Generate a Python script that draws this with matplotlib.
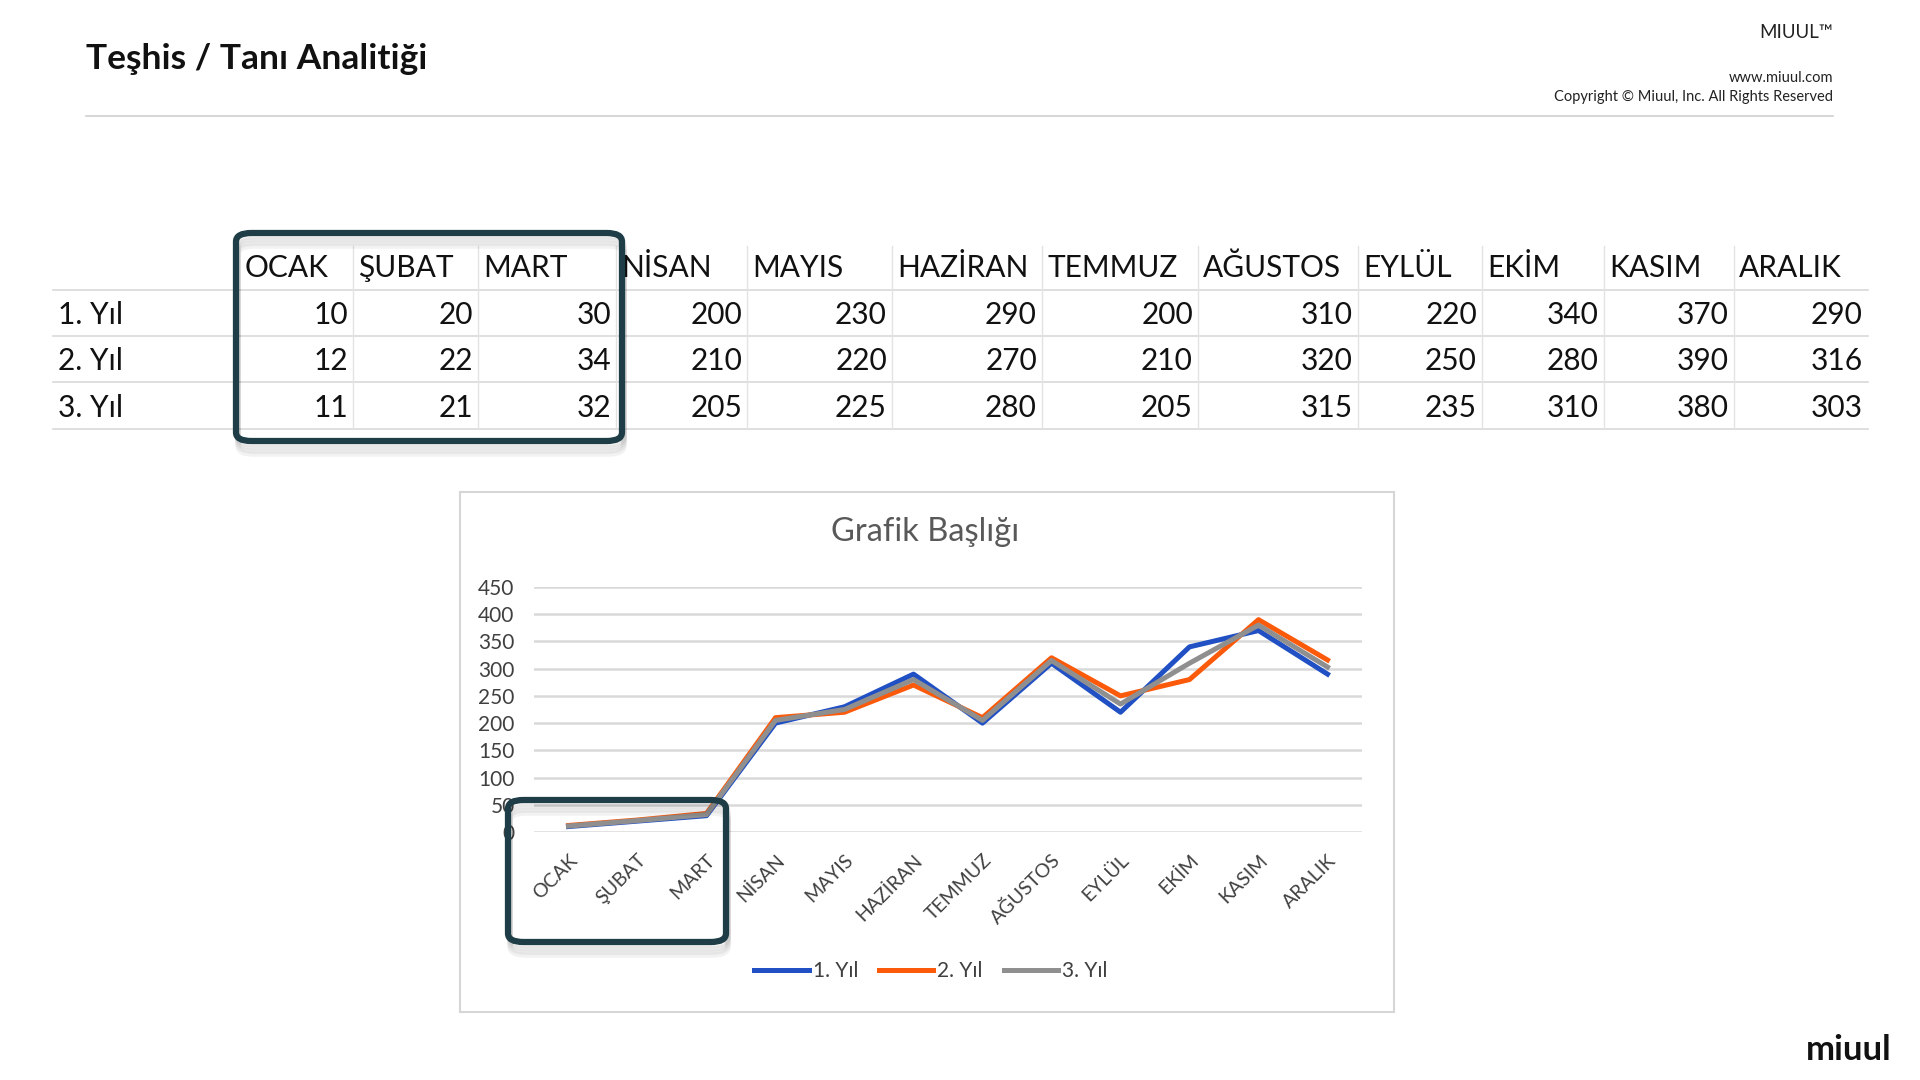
import matplotlib.pyplot as plt
from matplotlib.lines import Line2D
from matplotlib.patches import FancyBboxPatch, Rectangle

months = ["OCAK", "ŞUBAT", "MART", "NİSAN", "MAYIS", "HAZİRAN", "TEMMUZ",
          "AĞUSTOS", "EYLÜL", "EKİM", "KASIM", "ARALIK"]
series_names = ["1. Yıl", "2. Yıl", "3. Yıl"]
year1 = [10, 20, 30, 200, 230, 290, 200, 310, 220, 340, 370, 290]
year2 = [12, 22, 34, 210, 220, 270, 210, 320, 250, 280, 390, 316]
year3 = [11, 21, 32, 205, 225, 280, 205, 315, 235, 310, 380, 303]
y_ticks = [0, 50, 100, 150, 200, 250, 300, 350, 400, 450]

colors = ["#2050c4", "#fa5a0a", "#8f8f8f"]
dark = "#1e3d47"
W, H = 1920, 1080

fig = plt.figure(figsize=(19.2, 10.8), dpi=100)
fig.patch.set_facecolor("white")


def fx(x):
    return x / W


def fy(y):
    return 1 - y / H


def hline(x0, x1, y, color="#d9d9d9", lw=1.2):
    fig.add_artist(Line2D([fx(x0), fx(x1)], [fy(y), fy(y)], color=color, lw=lw))


def vline(x, y0, y1, color="#e3e3e3", lw=1.0):
    fig.add_artist(Line2D([fx(x), fx(x)], [fy(y0), fy(y1)], color=color, lw=lw))


def shadow_box(x0, y0, x1, y1):
    # soft shadow then the dark rounded frame
    for i in range(4):
        off = 4 + i * 3
        fig.add_artist(FancyBboxPatch((fx(x0 + 2), fy(y1 + off)), fx(x1 - x0), (y1 - y0) / H,
                                      boxstyle="round,pad=0,rounding_size=0.008",
                                      fc="none", ec="#000000", lw=4, alpha=0.05, zorder=19))
    fig.add_artist(FancyBboxPatch((fx(x0), fy(y1)), fx(x1 - x0), (y1 - y0) / H,
                                  boxstyle="round,pad=0,rounding_size=0.008",
                                  fc="none", ec=dark, lw=4.5, zorder=20))


# header
fig.text(fx(86), fy(59), "Teşhis / Tanı Analitiği", fontsize=25.5, fontweight="bold",
         family="Lato", va="center", ha="left", color="#111111")
hline(86, 1833, 116, color="#d0d0d0", lw=1.2)
fig.text(fx(1833), fy(33), "MIUUL\u2122", fontsize=13.5, family="Lato", ha="right",
         va="center", color="#222222")
fig.text(fx(1833), fy(78), "www.miuul.com", fontsize=10.5, family="Lato", ha="right",
         va="center", color="#222222")
fig.text(fx(1833), fy(97), "Copyright © Miuul, Inc. All Rights Reserved", fontsize=10.5,
         family="Lato", ha="right", va="center", color="#222222")
fig.text(fx(1892), fy(1050), "miuul", fontsize=25, fontweight="bold", family="Lato",
         ha="right", va="center", color="#111111")

# table
col_edges = [240, 353, 478, 616, 747, 892, 1042, 1198, 1358, 1482, 1604, 1734, 1868]
header_y = 268
row_ys = [315, 361, 408]
tfont = dict(fontsize=21.5, family="Lato", color="#111111", va="center")
for i, m in enumerate(months):
    fig.text(fx(col_edges[i] + 5), fy(header_y), m, ha="left", **tfont)
for r, vals in enumerate([year1, year2, year3]):
    fig.text(fx(58), fy(row_ys[r]), series_names[r], ha="left", **tfont)
    for i, v in enumerate(vals):
        fig.text(fx(col_edges[i + 1] - 5), fy(row_ys[r]), str(v), ha="right", **tfont)
for y in [290, 336, 382, 429]:
    hline(53, 1868, y)
for x in col_edges[1:-1]:
    vline(x, 246, 429)
shadow_box(236, 233, 622, 441)

# chart frame
fig.add_artist(Rectangle((fx(460), fy(1012)), fx(1394 - 460), (1012 - 492) / H,
                         fc="white", ec="#d6d6d6", lw=1.5, zorder=-1))
fig.text(fx(925), fy(532), "Grafik Başlığı", fontsize=23.5, family="Lato",
         ha="center", va="center", color="#595959")

ax = fig.add_axes([fx(534), fy(832), fx(1362 - 534), (832 - 587) / H])
ax.set_zorder(5)
ax.set_facecolor("none")
x = list(range(len(months)))
for vals, c, name in zip([year1, year2, year3], colors, series_names):
    ax.plot(x, vals, color=c, lw=3.6, label=name)
ax.set_xlim(-0.5, len(months) - 0.5)
ax.set_ylim(0, 450)
ax.set_yticks(y_ticks)
ax.set_xticks(x)
ax.set_xticklabels(months, rotation=45, ha="right", va="top", rotation_mode="anchor",
                   fontsize=14, family="Lato", color="#404040")
for lab in ax.get_yticklabels():
    lab.set_fontsize(15)
    lab.set_family("Lato")
    lab.set_color("#404040")
ax.tick_params(length=0)
ax.tick_params(axis="y", pad=14)
ax.tick_params(axis="x", pad=14)
ax.grid(axis="y", color="#d9d9d9", lw=1.8)
ax.set_axisbelow(True)
for s in ax.spines.values():
    s.set_visible(False)

ax.legend(loc="center", bbox_to_anchor=(fx(931), fy(971)), bbox_transform=fig.transFigure,
          ncol=3, frameon=False, prop={"family": "Lato", "size": 15}, labelcolor="#404040",
          handlelength=2.6, handletextpad=0.2, columnspacing=1.0)

shadow_box(508, 800, 726, 942)

fig.savefig("out.png", dpi=100)
